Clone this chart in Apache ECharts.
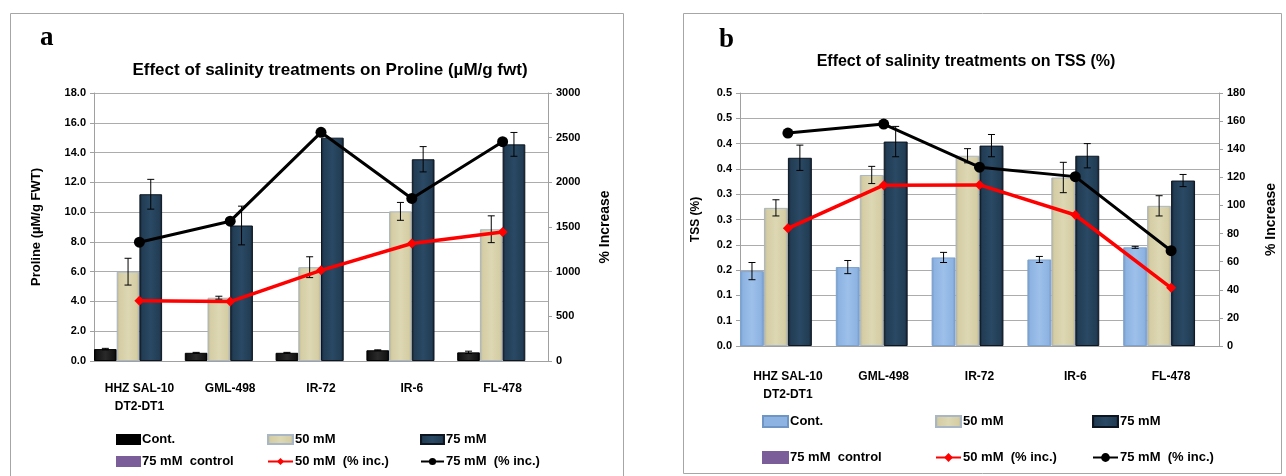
<!DOCTYPE html>
<html><head><meta charset="utf-8">
<script src="https://cdn.jsdelivr.net/npm/echarts@6/dist/echarts.min.js"></script>
<style>html,body{margin:0;padding:0;background:#fff}#c{width:1286px;height:476px}</style>
</head><body><div id="c"></div>
<script>
// ---- data ----
const categories = ['HHZ SAL-10\nDT2-DT1', 'GML-498', 'IR-72', 'IR-6', 'FL-478'];
// Panel a: Proline (µM/g FWT)
const prolineCont = [0.80, 0.55, 0.55, 0.72, 0.58];
const prolineContErr = [0.05, 0.03, 0.03, 0.03, 0.08];
const proline50 = [6.0, 4.25, 6.3, 10.05, 8.85];
const proline50Err = [0.9, 0.1, 0.7, 0.6, 0.9];
const proline75 = [11.2, 9.1, 15.0, 13.55, 14.55];
const proline75Err = [1.0, 1.3, null, 0.85, 0.8];
const prolineControl75 = [null, null, null, null, null];
const prolinePct50 = [675, 665, 1015, 1315, 1445];
const prolinePct75 = [1330, 1565, 2560, 1820, 2455];
// Panel b: TSS (%)
const tssCont = [0.148, 0.156, 0.175, 0.171, 0.195];
const tssContErr = [0.017, 0.013, 0.010, 0.006, 0.002];
const tss50 = [0.273, 0.338, 0.376, 0.333, 0.277];
const tss50Err = [0.016, 0.017, 0.014, 0.030, 0.020];
const tss75 = [0.372, 0.404, 0.396, 0.376, 0.327];
const tss75Err = [0.025, 0.030, 0.022, 0.024, 0.012];
const tssControl75 = [null, null, null, null, null];
const tssPct50 = [83.7, 114.4, 114.6, 93.2, 41.4];
const tssPct75 = [151.5, 157.9, 127.2, 120.5, 67.8];

const FONT = "'Liberation Sans','Arial',sans-serif";
const GRID = '#acacac';

function grad(edge, main, light) {
  return {type: 'linear', x: 0, y: 0, x2: 1, y2: 0, colorStops: [
    {offset: 0, color: edge}, {offset: 0.12, color: main}, {offset: 0.5, color: light},
    {offset: 0.88, color: main}, {offset: 1, color: edge}]};
}
const C_BLACK = grad('#000', '#141414', '#2a2a2a');
const C_BLUE = grad('#6f95c4', '#8db3e2', '#9dc0ea');
const C_KHAKI = grad('#b7b08a', '#d4cda4', '#ddd7b3');
const C_NAVY = grad('#101e2b', '#223d55', '#2a4964');
const C_PURPLE = '#7b5e99';

function errSeries(xi, yi, vals, errs, idx) {
  const data = [];
  vals.forEach((v, i) => { if (v != null && errs[i] != null) data.push([i, v, errs[i]]); });
  return {
    type: 'custom', xAxisIndex: xi, yAxisIndex: yi, z: 3, silent: true,
    encode: {x: 0, y: 1},
    data: data,
    renderItem: function (params, api) {
      const i = api.value(0), v = api.value(1), e = api.value(2);
      const c = api.coord([i, v]);
      const bw = api.size([1, 0])[0];
      const x = c[0] + (idx - 1.5) * bw / 4;
      const yh = api.coord([i, v + e])[1];
      const yl = api.coord([i, v - e])[1];
      const s = {stroke: '#000', lineWidth: 1};
      return {type: 'group', children: [
        {type: 'line', shape: {x1: x, y1: yh, x2: x, y2: yl}, style: s},
        {type: 'line', shape: {x1: x - 3.5, y1: yh, x2: x + 3.5, y2: yh}, style: s},
        {type: 'line', shape: {x1: x - 3.5, y1: yl, x2: x + 3.5, y2: yl}, style: s}
      ]};
    }
  };
}

function barS(name, xi, yi, data, color, border) {
  return {name: name, type: 'bar', xAxisIndex: xi, yAxisIndex: yi, data: data,
    barGap: '0%', barCategoryGap: '0%',
    itemStyle: {color: color, borderColor: border, borderWidth: 1}};
}
function lineS(name, xi, yi, data, color, symbol, size, width) {
  return {name: name, type: 'line', xAxisIndex: xi, yAxisIndex: yi, data: data, z: 4,
    symbol: symbol, symbolSize: size, lineStyle: {color: color, width: width},
    itemStyle: {color: color}};
}

function xAxis(gi) {
  return {type: 'category', gridIndex: gi, data: categories,
    axisLine: {lineStyle: {color: '#a0a0a0'}},
    axisTick: {length: 5, lineStyle: {color: '#a0a0a0'}},
    axisLabel: {interval: 0, color: '#000', fontFamily: FONT, fontWeight: 'bold', fontSize: 12,
      lineHeight: 18, margin: gi === 0 ? 19 : 22}};
}
function yAxis(gi, pos, min, max, interval, fmt, name, gap, split, nameSize) {
  return {type: 'value', gridIndex: gi, position: pos, min: min, max: max, interval: interval,
    name: name, nameLocation: 'middle', nameGap: gap, nameRotate: 90,
    nameTextStyle: {color: '#000', fontFamily: FONT, fontWeight: 'bold', fontSize: nameSize},
    axisLine: {show: true, lineStyle: {color: '#a0a0a0'}},
    axisTick: {show: true, length: 4, lineStyle: {color: '#a0a0a0'}},
    axisLabel: {color: '#000', fontFamily: FONT, fontWeight: 'bold', fontSize: 11, formatter: fmt, margin: 8},
    splitLine: {show: split, lineStyle: {color: GRID, width: 1}}};
}

function legendItem(left, top, name, w, h, override) {
  return {left: left, top: top, itemWidth: w, itemHeight: h, selectedMode: false, padding: 0,
    textStyle: {fontFamily: FONT, fontSize: 13, fontWeight: 'bold', color: '#000', padding: [0, 0, 0, -3]},
    data: [Object.assign({name: name}, override || {})]};
}

const barIcon = {icon: 'rect'};
const option = {
  animation: false,
  graphic: [
    {type: 'rect', shape: {x: 10.5, y: 13.5, width: 613, height: 470}, style: {fill: 'none', stroke: '#a6a6a6', lineWidth: 1}},
    {type: 'rect', shape: {x: 683.5, y: 13.5, width: 598, height: 460}, style: {fill: 'none', stroke: '#a6a6a6', lineWidth: 1}},
    {type: 'text', x: 40, y: 38, style: {text: 'a', font: "bold 27px 'Liberation Serif',serif", fill: '#000', textVerticalAlign: 'middle'}},
    {type: 'text', x: 719, y: 40, style: {text: 'b', font: "bold 27px 'Liberation Serif',serif", fill: '#000', textVerticalAlign: 'middle'}},
    {type: 'text', x: 330, y: 70, style: {text: 'Effect of salinity treatments on Proline (µM/g fwt)', font: "bold 17px " + FONT, fill: '#000', textAlign: 'center', textVerticalAlign: 'middle'}},
    {type: 'text', x: 966, y: 62, style: {text: 'Effect of salinity treatments on TSS (%)', font: "bold 16px " + FONT, fill: '#000', textAlign: 'center', textVerticalAlign: 'middle'}}
  ],
  grid: [
    {left: 94, top: 93, width: 454, height: 268},
    {left: 740, top: 93, width: 479, height: 253}
  ],
  xAxis: [xAxis(0), xAxis(1)],
  yAxis: [
    yAxis(0, 'left', 0, 18, 2, v => v.toFixed(1), 'Proline (µM/g FWT)', 51, true, 13),
    yAxis(0, 'right', 0, 3000, 500, v => String(v), '% Increase', 50, false, 14),
    yAxis(1, 'left', 0, 0.5, 0.05, v => (Math.floor(v * 10 + 0.5 + 1e-6) / 10).toFixed(1), 'TSS (%)', 38, true, 12),
    yAxis(1, 'right', 0, 180, 20, v => String(v), '% Increase', 45, false, 14)
  ],
  legend: [
    legendItem(116, 433, 'Cont.', 23, 9, {icon: 'rect', itemStyle: {color: '#000', borderColor: '#000'}}),
    legendItem(116, 455, '75 mM  control', 23, 9, barIcon),
    legendItem(267, 433, '50 mM', 25, 9, barIcon),
    legendItem(267, 455, '50 mM  (% inc.)', 25, 9),
    legendItem(420, 433, '75 mM', 23, 9, barIcon),
    legendItem(420, 455, '75 mM  (% inc.)', 23, 9),

    legendItem(762, 415, 'Cont.', 25, 11, {icon: 'rect', itemStyle: {color: '#8db3e2', borderColor: '#6f95c4'}}),
    legendItem(762, 451, '75 mM  control', 25, 11, barIcon),
    legendItem(935, 415, '50 mM', 25, 11, barIcon),
    legendItem(935, 451, '50 mM  (% inc.)', 25, 11),
    legendItem(1092, 415, '75 mM', 25, 11, barIcon),
    legendItem(1092, 451, '75 mM  (% inc.)', 25, 11)
  ],
  series: [
    barS('Cont.', 0, 0, prolineCont, C_BLACK, '#000'),
    barS('50 mM', 0, 0, proline50, C_KHAKI, '#a9b6c6'),
    barS('75 mM', 0, 0, proline75, C_NAVY, '#0d1620'),
    barS('75 mM  control', 0, 0, prolineControl75, C_PURPLE, C_PURPLE),
    errSeries(0, 0, prolineCont, prolineContErr, 0),
    errSeries(0, 0, proline50, proline50Err, 1),
    errSeries(0, 0, proline75, proline75Err, 2),
    lineS('50 mM  (% inc.)', 0, 1, prolinePct50, '#ff0000', 'diamond', 10, 3.5),
    lineS('75 mM  (% inc.)', 0, 1, prolinePct75, '#000000', 'circle', 11, 3),

    barS('Cont.', 1, 2, tssCont, C_BLUE, '#7fa3cf'),
    barS('50 mM', 1, 2, tss50, C_KHAKI, '#a9b6c6'),
    barS('75 mM', 1, 2, tss75, C_NAVY, '#0d1620'),
    barS('75 mM  control', 1, 2, tssControl75, C_PURPLE, C_PURPLE),
    errSeries(1, 2, tssCont, tssContErr, 0),
    errSeries(1, 2, tss50, tss50Err, 1),
    errSeries(1, 2, tss75, tss75Err, 2),
    lineS('50 mM  (% inc.)', 1, 3, tssPct50, '#ff0000', 'diamond', 10, 3.5),
    lineS('75 mM  (% inc.)', 1, 3, tssPct75, '#000000', 'circle', 11, 3)
  ]
};
const chart = echarts.init(document.getElementById('c'), null, {renderer: 'canvas'});
chart.setOption(option);
</script></body></html>
